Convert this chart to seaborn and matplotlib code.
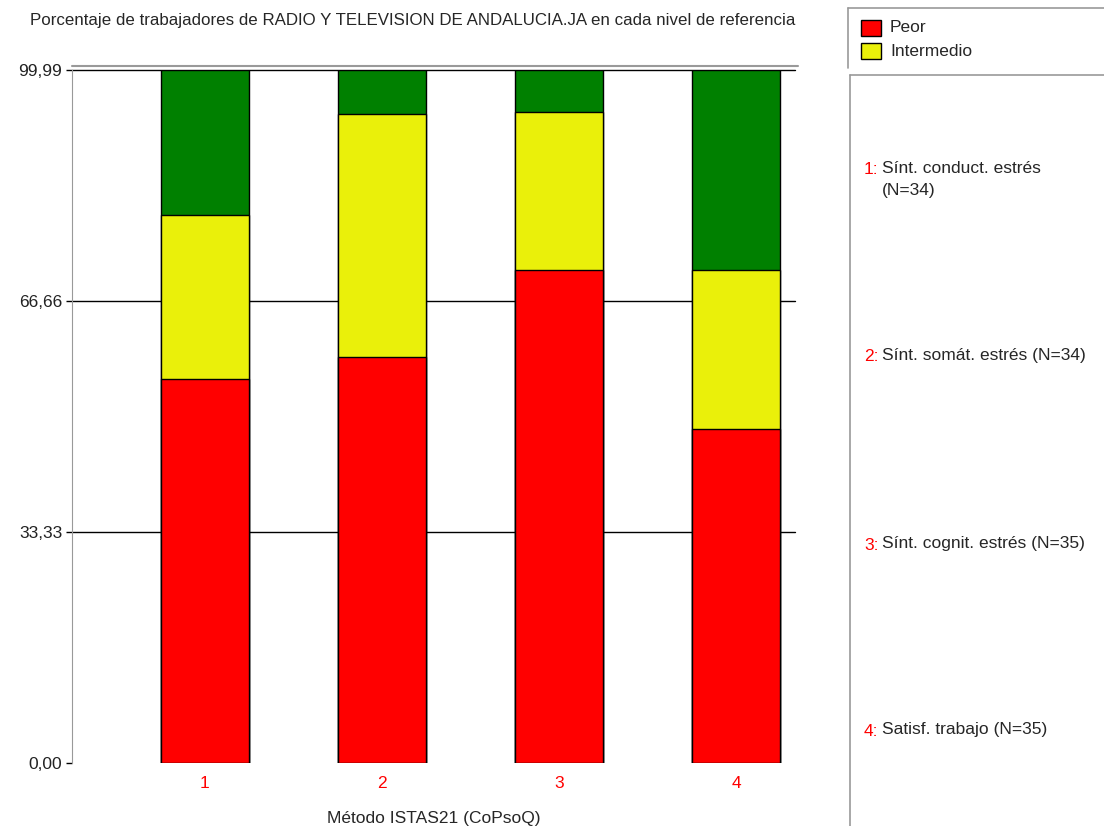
import pandas as pd
import seaborn as sns
import matplotlib.pyplot as plt
from matplotlib.patches import Rectangle
from matplotlib.lines import Line2D

# Datos (porcentaje por nivel)
categorias = ['1', '2', '3', '4']
peor = [55.4, 58.6, 71.1, 48.2]
intermedio = [23.7, 35.0, 22.8, 22.9]
favorable = [20.89, 6.39, 6.09, 28.89]
etiquetas = ['Sínt. conduct. estrés\n(N=34)', 'Sínt. somát. estrés (N=34)',
             'Sínt. cognit. estrés (N=35)', 'Satisf. trabajo (N=35)']
yticks = [0, 33.33, 66.66, 99.99]
yticklabels = ['0,00', '33,33', '66,66', '99,99']

df = pd.DataFrame({'cat': categorias, 'peor': peor, 'intermedio': intermedio, 'favorable': favorable})
df['c_int'] = df['peor'] + df['intermedio']
df['c_tot'] = df['c_int'] + df['favorable']

sns.set_style('white')
plt.rcParams['font.family'] = ['Liberation Sans', 'DejaVu Sans']
fs = 12.5

W, H = 1104, 826
fig = plt.figure(figsize=(W / 100, H / 100), dpi=100)
ax = fig.add_axes([72 / W, 1 - 763 / H, (795 - 72) / W, (763 - 70) / H])

for col, color in [('c_tot', '#008000'), ('c_int', '#EAF00A'), ('peor', '#FF0000')]:
    sns.barplot(data=df, x='cat', y=col, order=categorias, color=color, width=0.5,
                edgecolor='black', linewidth=1, saturation=1, ax=ax, zorder=3)

ax.set_xlim(-0.751, 3.333)
ax.set_ylim(0, 99.99)
ax.set_yticks(yticks)
ax.set_yticklabels(yticklabels, fontsize=fs, color='#222222')
for y in yticks[1:]:
    ax.axhline(y, color='black', lw=1, zorder=2, clip_on=False)
ax.tick_params(axis='y', length=4, width=1, color='black', pad=3, left=True)
ax.tick_params(axis='x', length=0, pad=9, labelsize=fs, labelcolor='red')
for s in ['top', 'right', 'bottom']:
    ax.spines[s].set_visible(False)
ax.spines['left'].set_color('#999999')
ax.set_xlabel('Método ISTAS21 (CoPsoQ)', fontsize=fs, labelpad=15)
ax.set_ylabel('')

fig.text(30 / W, 1 - 20 / H, 'Porcentaje de trabajadores de RADIO Y TELEVISION DE ANDALUCIA.JA en cada nivel de referencia',
         fontsize=12.2, va='center', ha='left')

# línea gris superior
fig.add_artist(Line2D([72 / W, 798 / W], [1 - 66 / H, 1 - 66 / H], color='#999999', lw=1.5))

# cajas de leyenda
gris = '#999999'
fig.add_artist(Line2D([848 / W, 848 / W], [1 - 8 / H, 1 - 68 / H], color=gris, lw=1.2))
fig.add_artist(Line2D([848 / W, 1], [1 - 8 / H, 1 - 8 / H], color=gris, lw=1.2))
fig.add_artist(Line2D([850 / W, 850 / W], [1 - 75 / H, 0], color=gris, lw=1.2))
fig.add_artist(Line2D([850 / W, 1], [1 - 75 / H, 1 - 75 / H], color=gris, lw=1.2))

for i, (lab, color) in enumerate([('Peor', '#FF0000'), ('Intermedio', '#EAF00A')]):
    yc = 28 + i * 23
    fig.add_artist(Rectangle((861 / W, 1 - (yc + 8) / H), 20 / W, 16 / H, facecolor=color,
                             edgecolor='black', lw=1))
    fig.text(890 / W, 1 - yc / H, lab, fontsize=fs, va='center', ha='left')

ypos = [170, 357, 545, 731]
for cat, lab, yp in zip(categorias, etiquetas, ypos):
    fig.text(864 / W, 1 - yp / H, cat + ':', fontsize=fs, color='red', va='center', ha='left')
    fig.text(882 / W, 1 - (yp - 9) / H, lab, fontsize=fs, va='top', ha='left', linespacing=1.6)

fig.savefig('out.png', dpi=100)
